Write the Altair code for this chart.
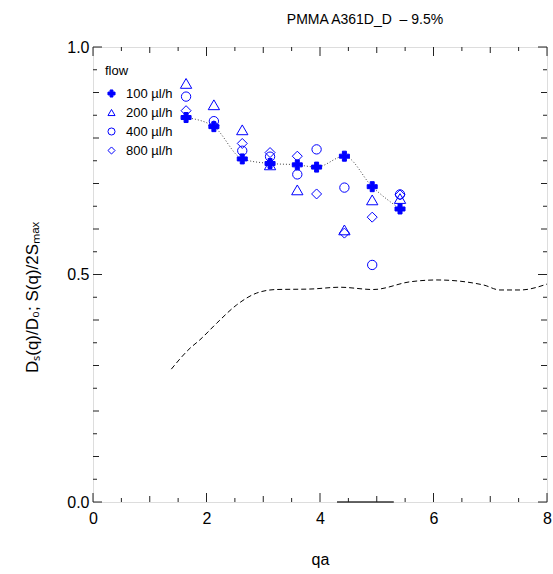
import altair as alt
import pandas as pd

# ---- data ----
qa = [1.64, 2.13, 2.63, 3.12, 3.60, 3.94, 4.43, 4.92, 5.41]
flow100 = [0.845, 0.825, 0.754, 0.744, 0.741, 0.736, 0.760, 0.693, 0.644]
qa200 = [1.64, 2.13, 2.63, 3.12, 3.60, 4.43, 4.92, 5.41]
flow200 = [0.920, 0.873, 0.818, 0.741, 0.686, 0.598, 0.664, 0.667]
flow400 = [0.891, 0.837, 0.772, 0.759, 0.720, 0.775, 0.691, 0.521, 0.676]
flow800 = [0.860, 0.827, 0.788, 0.768, 0.760, 0.677, 0.591, 0.626, 0.675]

sq_x = [1.38, 1.71, 1.88, 2.18, 2.53, 2.88, 3.23, 3.82, 4.35, 4.94, 5.59, 6.06, 6.88, 7.17, 7.53, 8.0]
sq_y = [0.292, 0.338, 0.356, 0.393, 0.433, 0.459, 0.467, 0.468, 0.472, 0.467, 0.484, 0.488, 0.477, 0.466, 0.466, 0.479]

seg_x = [4.3, 5.3]
seg_y = [0.0, 0.0]

flow_labels = ["100 \u00b5l/h", "200 \u00b5l/h", "400 \u00b5l/h", "800 \u00b5l/h"]

x_major = [0, 2, 4, 6, 8]
x_mid = [1, 3, 5, 7]
x_minor = [0.5, 1.5, 2.5, 3.5, 4.5, 5.5, 6.5, 7.5]
y_major = [0.0, 0.5, 1.0]
y_mid = [0.1, 0.2, 0.3, 0.4, 0.6, 0.7, 0.8, 0.9]
y_minor = [0.05, 0.15, 0.25, 0.35, 0.45, 0.55, 0.65, 0.75, 0.85, 0.95]

# ---- tables ----
pts = pd.concat([
    pd.DataFrame({"qa": qa, "v": flow100, "flow": flow_labels[0]}),
    pd.DataFrame({"qa": qa200, "v": flow200, "flow": flow_labels[1]}),
    pd.DataFrame({"qa": qa, "v": flow400, "flow": flow_labels[2]}),
    pd.DataFrame({"qa": qa, "v": flow800, "flow": flow_labels[3]}),
], ignore_index=True)
line100 = pd.DataFrame({"qa": qa, "v": flow100})
sq = pd.DataFrame({"qa": sq_x, "v": sq_y})
seg = pd.DataFrame({"qa": seg_x, "v": seg_y})

W, H = 454, 455
X0, X1, Y0, Y1 = 0.0, 8.0, 0.0, 1.0
FONT = "Liberation Sans"
INK = "#222222"
xs = alt.Scale(domain=[X0, X1], nice=False, zero=False)
ys = alt.Scale(domain=[Y0, Y1], nice=False, zero=False)

main = alt.Chart(sq).mark_line(color="black", strokeWidth=1, strokeDash=[5, 3],
                               interpolate="monotone").encode(
    x=alt.X("qa:Q", scale=xs, axis=alt.Axis(
        orient="bottom", values=x_major, ticks=False, tickSize=0, domain=False, grid=False,
        labelFontSize=16, labelPadding=8, labelColor="black", labelFont=FONT,
        title="qa", titleFontSize=16, titleFontWeight="normal", titlePadding=25,
        titleFont=FONT, titleColor="black", format="d", labelFlush=False)),
    y=alt.Y("v:Q", scale=ys, axis=alt.Axis(
        orient="left", values=y_major, ticks=False, tickSize=0, domain=False, grid=False,
        labelFontSize=16, labelPadding=4, labelColor="black", labelFont=FONT, format=".1f",
        title="D\u209b(q)/D\u2080; S(q)/2S\u2098\u2090\u2093", titleFontSize=17,
        titleFontWeight="normal", titlePadding=25, titleFont=FONT, titleColor="black",
        titleY=250, labelFlush=False)),
)

seg_layer = alt.Chart(seg).mark_line(color="#333333", strokeWidth=1.6).encode(
    x=alt.X("qa:Q", scale=xs, axis=None), y=alt.Y("v:Q", scale=ys, axis=None))

dotted = alt.Chart(line100).mark_line(color="#444444", strokeWidth=1, strokeDash=[1, 2],
                                      interpolate="monotone").encode(
    x=alt.X("qa:Q", scale=xs, axis=None), y=alt.Y("v:Q", scale=ys, axis=None))

legend = alt.Legend(
    title="flow", orient="none", legendX=12, legendY=18, padding=0,
    titleFontSize=13, titleFontWeight="normal", titleFont=FONT, titleColor="black",
    titlePadding=9, labelFontSize=13, labelFont=FONT, labelColor="black",
    symbolSize=50, rowPadding=5, labelOffset=8, symbolStrokeWidth=1)

points = alt.Chart(pts).mark_point(filled=False, strokeWidth=1, color="#0000ff",
                                   opacity=1).encode(
    x=alt.X("qa:Q", scale=xs, axis=None),
    y=alt.Y("v:Q", scale=ys, axis=None),
    shape=alt.Shape("flow:N", scale=alt.Scale(domain=flow_labels,
                    range=["cross", "triangle-up", "circle", "diamond"]), legend=legend),
    fill=alt.Fill("flow:N", scale=alt.Scale(domain=flow_labels,
                  range=["#0000ff", "transparent", "transparent", "transparent"]), legend=legend),
    size=alt.value(100, condition=[
        {"test": f"datum.flow == '{flow_labels[1]}'", "value": 128},
        {"test": f"datum.flow == '{flow_labels[2]}'", "value": 87},
    ]),
)


# inward tick marks on all four frame edges, placed through the scales
def xticks(values, px):
    d = pd.DataFrame({"t": values})
    ln = px / H * (Y1 - Y0)
    base = alt.Chart(d).mark_rule(color=INK, strokeWidth=1)
    bottom = base.transform_calculate(a=f"{Y0}", b=f"{Y0 + ln}").encode(
        x=alt.X("t:Q", scale=xs, axis=None),
        y=alt.Y("a:Q", scale=ys, axis=None), y2="b:Q")
    top = base.transform_calculate(a=f"{Y1}", b=f"{Y1 - ln}").encode(
        x=alt.X("t:Q", scale=xs, axis=None),
        y=alt.Y("a:Q", scale=ys, axis=None), y2="b:Q")
    return [bottom, top]


def yticks(values, px):
    d = pd.DataFrame({"t": values})
    ln = px / W * (X1 - X0)
    base = alt.Chart(d).mark_rule(color=INK, strokeWidth=1)
    left = base.transform_calculate(a=f"{X0}", b=f"{X0 + ln}").encode(
        y=alt.Y("t:Q", scale=ys, axis=None),
        x=alt.X("a:Q", scale=xs, axis=None), x2="b:Q")
    right = base.transform_calculate(a=f"{X1}", b=f"{X1 - ln}").encode(
        y=alt.Y("t:Q", scale=ys, axis=None),
        x=alt.X("a:Q", scale=xs, axis=None), x2="b:Q")
    return [left, right]


ticks = []
ticks += xticks(x_major, 9) + xticks(x_mid, 6) + xticks(x_minor, 4)
ticks += yticks(y_major, 9) + yticks(y_mid, 6) + yticks(y_minor, 4)

chart = alt.layer(main, seg_layer, dotted, points, *ticks).resolve_axis(
    x="independent", y="independent"
).properties(
    width=W, height=H,
    title=alt.TitleParams(text="PMMA A361D_D\u00a0 \u2013 9.5%", fontSize=14,
                          fontWeight="normal", font=FONT, color="black",
                          anchor="middle", dx=45, offset=1, baseline="alphabetic",
                          frame="group"),
    autosize=alt.AutoSizeParams(type="none"),
    padding={"left": 93, "top": 47, "right": 6, "bottom": 72},
).configure_view(stroke=INK, strokeWidth=1).configure(font=FONT, background="white")

chart.save("out.html", embed_options={"renderer": "svg", "actions": False})
